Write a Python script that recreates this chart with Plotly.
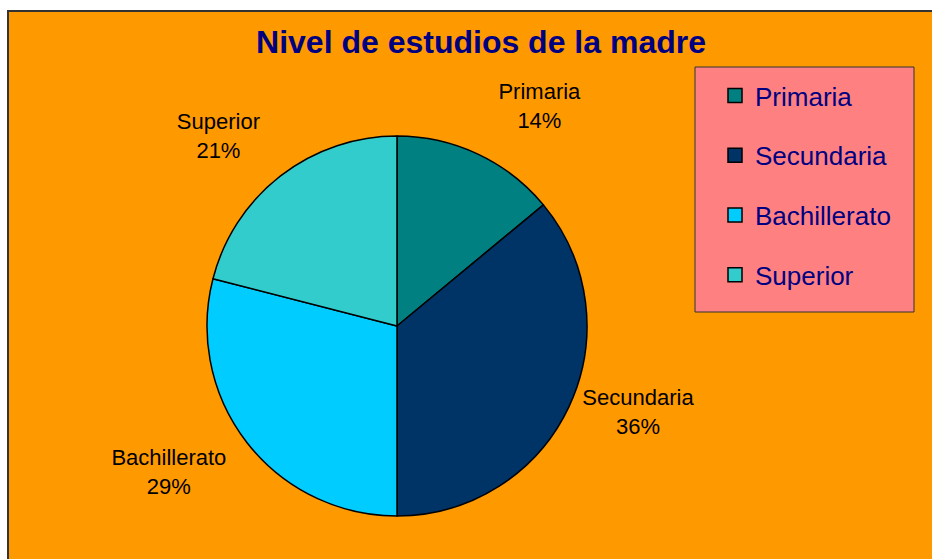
import plotly.graph_objects as go

# data
categories = ["Primaria", "Secundaria", "Bachillerato", "Superior"]
values = [14, 36, 29, 21]
colors = ["#008080", "#003366", "#00CCFF", "#33CCCC"]

W, H = 932, 559
font = "Liberation Sans, Arial, sans-serif"
nb = "\u00a0"

# blank lines push the outside labels a bit further from the pie, like the original
templates = [
    "%{label}<br>%{percent:.0%}<br>" + nb,
    "%{label}<br>%{percent:.0%}",
    nb + "<br>%{label}<br>%{percent:.0%}",
    "%{label}<br>%{percent:.0%}<br>" + nb,
]

fig = go.Figure()
fig.add_trace(go.Pie(
    labels=categories,
    values=values,
    sort=False,
    direction="clockwise",
    rotation=0,
    marker=dict(colors=colors, line=dict(color="black", width=1.5)),
    textposition="outside",
    texttemplate=templates,
    textfont=dict(family=font, size=22, color="black"),
    showlegend=False,
    domain=dict(x=[207 / W, 587 / W], y=[1 - 516 / H, 1 - 136 / H]),
))

# legend entries (one group each so the rows can be spaced like the original)
for cat, col in zip(categories, colors):
    fig.add_trace(go.Scatter(
        x=[None], y=[None], mode="markers", name=cat, legendgroup=cat,
        marker=dict(symbol="square", size=14, color=col, line=dict(color="black", width=1.5)),
    ))

# chart area with dark border
fig.add_shape(type="rect", xref="paper", yref="paper",
              x0=8 / W, x1=1.02, y0=-0.02, y1=1 - 11 / H,
              fillcolor="#FF9900", line=dict(color="#333333", width=2), layer="below")
# legend box
fig.add_shape(type="rect", xref="paper", yref="paper",
              x0=695 / W, x1=914 / W, y0=1 - 312 / H, y1=1 - 67 / H,
              fillcolor="#FF8080", line=dict(color="#333333", width=1), layer="above")

fig.update_layout(
    width=W, height=H,
    margin=dict(l=0, r=0, t=0, b=0),
    paper_bgcolor="white",
    plot_bgcolor="rgba(0,0,0,0)",
    xaxis=dict(visible=False),
    yaxis=dict(visible=False),
    title=dict(text="<b>Nivel de estudios de la madre</b>", x=481 / W, xanchor="center",
               y=1 - 42 / H, yanchor="middle",
               font=dict(family=font, size=32, color="#000080")),
    showlegend=True,
    legend=dict(
        x=695 / W, y=1 - 72 / H, xanchor="left", yanchor="top",
        bgcolor="rgba(0,0,0,0)", borderwidth=0,
        font=dict(family=font, size=26, color="#000080"),
        indentation=20, tracegroupgap=23,
    ),
)

# page without the default body margin so the figure starts at the window corner
fig.write_html("out.html", config={"displayModeBar": False},
               post_script="document.body.style.margin='0';")
